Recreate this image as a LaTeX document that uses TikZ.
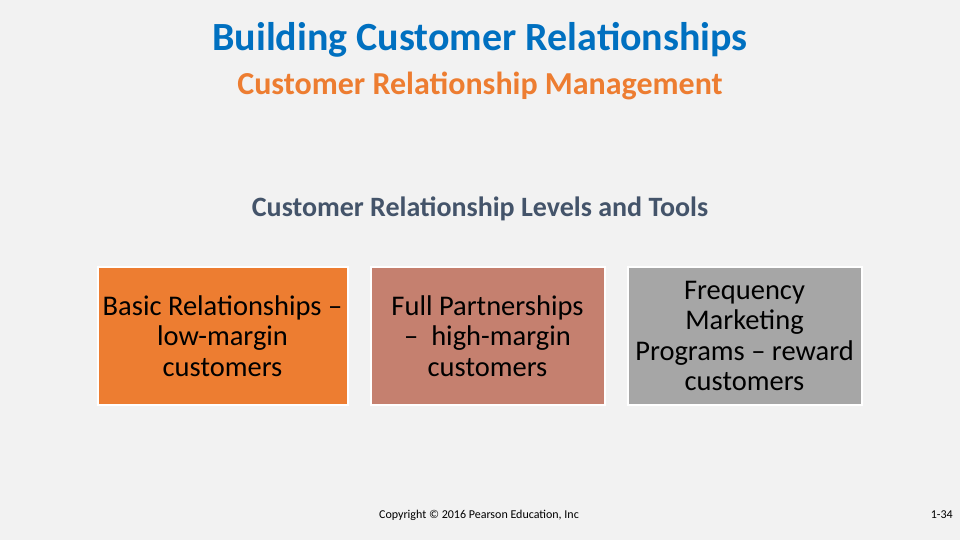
\documentclass[tikz,border=0pt]{standalone}
\usepackage{fontspec}
\setmainfont{Carlito}
\usepackage{xcolor}
\usetikzlibrary{positioning}

\definecolor{slidebg}{HTML}{F2F2F2}
\definecolor{titleblue}{HTML}{0070C0}
\definecolor{suborange}{HTML}{ED7D31}
\definecolor{headgray}{HTML}{44546A}
\definecolor{boxorange}{HTML}{ED7D31}
\definecolor{boxrose}{HTML}{C5806F}
\definecolor{boxgray}{HTML}{A6A6A6}

\tikzset{
  levelbox/.style={draw=white, line width=2pt, minimum height=138pt,
    align=center, inner sep=3pt, font=\fontsize{28.5}{30.5}\selectfont,
    text=black},
}

\begin{document}
\begin{tikzpicture}[x=1pt,y=-1pt]
    \fill[slidebg] (0,0) rectangle (960,540);
    \useasboundingbox (0,0) rectangle (960,540);

    \node (title) at (480,40) {\fontsize{40}{48}\selectfont\bfseries\color{titleblue}Building Customer Relationships};
    \node (subtitle) at (480,86) {\fontsize{32}{38}\selectfont\bfseries\color{suborange}Customer Relationship Management};
    \node (levels) at (480,209) {\fontsize{28}{33}\selectfont\bfseries\color{headgray}Customer Relationship Levels and Tools};

    \node[levelbox, fill=boxorange, minimum width=250pt] (basic) at (222.5,336)
      {Basic Relationships --\\low-margin\\customers};
    \node[levelbox, fill=boxrose, minimum width=234pt, right=21pt of basic] (full)
      {Full Partnerships\\-- \ high-margin\\customers};
    \node[levelbox, fill=boxgray, minimum width=234pt, right=21pt of full] (freq)
      {Frequency\\Marketing\\Programs -- reward\\customers};

    \node (copy) at (479,515) {\fontsize{12}{14}\selectfont Copyright \textcopyright{} 2016 Pearson Education, Inc};
    \node[anchor=east, inner sep=0pt] (page) at (953,515) {\fontsize{12}{14}\selectfont 1-34};
\end{tikzpicture}
\end{document}
